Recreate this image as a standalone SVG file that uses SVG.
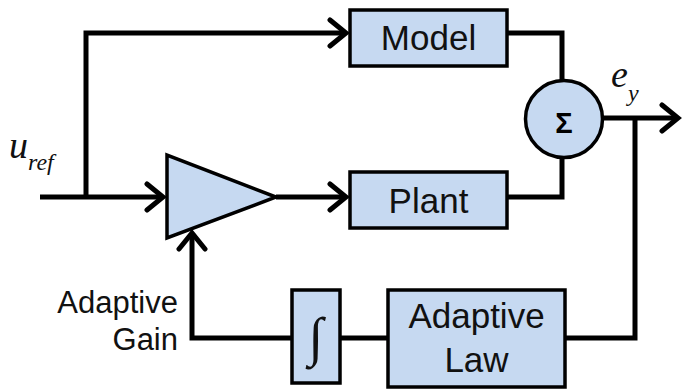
<svg xmlns="http://www.w3.org/2000/svg" width="683" height="389" viewBox="0 0 683 389">
  <style>
    .blk { fill: #c6d9f1; stroke: #000; stroke-width: 3.5; }
    .wire { fill: none; stroke: #000; stroke-width: 5; stroke-linejoin: miter; }
    .lbl { font-family: "Liberation Sans", Arial, sans-serif; font-size: 35px; fill: #111; text-anchor: middle; }
    .side { font-family: "Liberation Sans", Arial, sans-serif; font-size: 31px; fill: #111; text-anchor: end; }
    .math { font-family: "Liberation Serif", "Times New Roman", serif; font-style: italic; fill: #111; }
  </style>
  <defs>
    <marker id="arrow" markerUnits="userSpaceOnUse" markerWidth="32" markerHeight="32" viewBox="-20 -16 24 32" refX="0" refY="0" orient="auto">
      <path d="M-16,-13 L0,0 L-16,13" fill="none" stroke="#000" stroke-width="5" stroke-linecap="round" stroke-linejoin="miter"/>
    </marker>
  </defs>

  <!-- signal wiring -->
  <g id="connectors">
    <path class="wire" d="M40,197 H163" marker-end="url(#arrow)"/>
    <path class="wire" d="M86,197 V33 H346" marker-end="url(#arrow)"/>
    <path class="wire" d="M276,197 H346" marker-end="url(#arrow)"/>
    <path class="wire" d="M507,33 H562 V81"/>
    <path class="wire" d="M507,197 H562 V157"/>
    <path class="wire" d="M603,118 H678" marker-end="url(#arrow)"/>
    <path class="wire" d="M635,118 V338 H565"/>
    <path class="wire" d="M388,338 H340"/>
    <path class="wire" d="M292,338 H192 V233" marker-end="url(#arrow)"/>
  </g>

  <g id="gain">
    <polygon class="blk" points="167,155 167,238 276,197"/>
  </g>

  <g id="model">
    <rect class="blk" x="350" y="10" width="157" height="56"/>
    <text class="lbl" x="428.5" y="50">Model</text>
  </g>

  <g id="plant">
    <rect class="blk" x="350" y="172" width="157" height="56"/>
    <text class="lbl" x="428.5" y="213">Plant</text>
  </g>

  <g id="sum">
    <circle class="blk" cx="564" cy="119" r="38.5"/>
    <text x="564" y="133" font-family="Liberation Sans, Arial, sans-serif" font-size="29" font-weight="bold" text-anchor="middle" fill="#000">Σ</text>
  </g>

  <g id="integrator">
    <rect class="blk" x="292" y="290" width="48" height="93"/>
    <text x="316" y="355" font-family="Liberation Serif, Times New Roman, serif" font-size="54" text-anchor="middle" fill="#111">∫</text>
  </g>

  <g id="adaptive-law">
    <rect class="blk" x="388" y="290" width="177" height="97"/>
    <text class="lbl" x="476.5" y="328">Adaptive</text>
    <text class="lbl" x="476.5" y="372">Law</text>
  </g>

  <g id="labels">
    <text class="math" x="9" y="158" font-size="38">u<tspan font-size="24" dy="12">ref</tspan></text>
    <text class="math" x="611" y="87" font-size="38">e<tspan font-size="24" dy="14">y</tspan></text>
    <text class="side" x="178" y="313">Adaptive</text>
    <text class="side" x="178" y="350">Gain</text>
  </g>
</svg>
